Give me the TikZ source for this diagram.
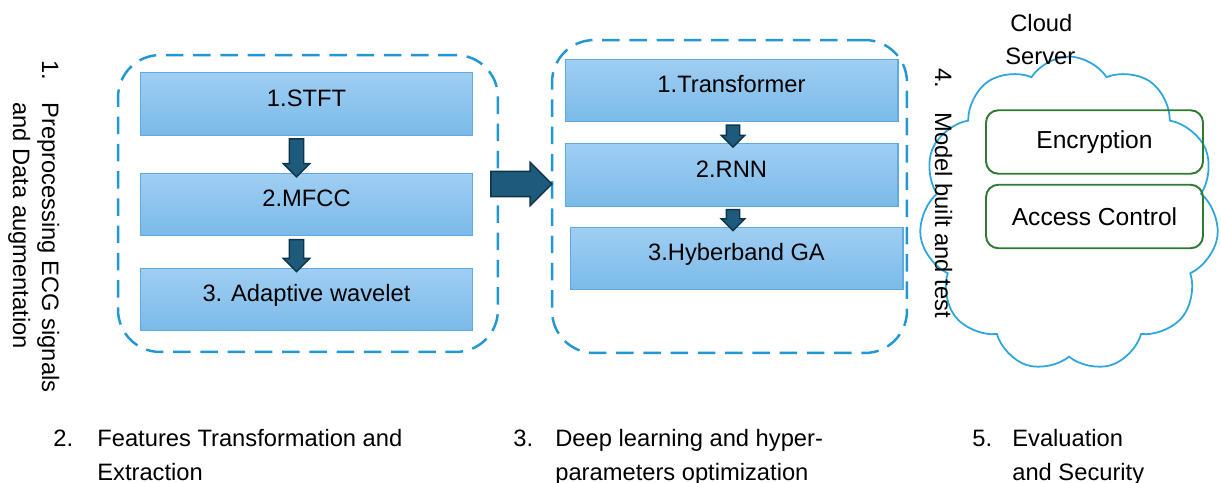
\documentclass[tikz,border=0pt]{standalone}
\usepackage{fontspec}
\setmainfont{Liberation Sans}
\usetikzlibrary{shapes.arrows,shapes.symbols,calc}
\definecolor{dashblue}{RGB}{33,152,212}
\definecolor{boxtop}{RGB}{160,206,243}
\definecolor{boxbot}{RGB}{122,186,232}
\definecolor{boxedge}{RGB}{95,170,225}
\definecolor{arrowfill}{RGB}{29,90,124}
\definecolor{arrowedge}{RGB}{14,52,74}
\definecolor{cloudblue}{RGB}{45,165,222}
\definecolor{keygreen}{RGB}{48,122,52}
\begin{document}
\begin{tikzpicture}[x=0.02cm,y=-0.02cm,
    dashgroup/.style={draw=dashblue,line width=1.4pt,dash pattern=on 10pt off 5.5pt,rounded corners=24pt},
    stage/.style={draw=boxedge,line width=0.6pt,top color=boxtop,bottom color=boxbot,
        minimum width=6.66cm,minimum height=1.25cm,text height=9.8pt,text depth=7pt,
        font=\fontsize{13.5}{15}\selectfont},
    blockarrow/.style={single arrow,draw=arrowedge,fill=arrowfill,line width=0.8pt},
    downarrow/.style={blockarrow,shape border rotate=270,inner sep=0.13cm,single arrow head extend=0.12cm},
    keybox/.style={draw=keygreen,line width=1.1pt,rounded corners=7pt,
        minimum width=4.34cm,minimum height=1.27cm,font=\fontsize{14}{16}\selectfont},
    stepnote/.style={font=\fontsize{13.5}{16}\selectfont,inner sep=0pt,anchor=base west}]
    \useasboundingbox (0,0) rectangle (1221,483);

    % dashed groups
    \node[dashgroup,minimum width=7.6cm,minimum height=5.94cm] (feat) at (308,203.5) {};
    \node[dashgroup,minimum width=7.1cm,minimum height=6.26cm] (deep) at (729.5,196.5) {};

    % feature extraction
    \node[stage] (stft) at (306.5,104) {1.STFT};
    \node[stage] (mfcc) at (306.5,204.5) {2.MFCC};
    \node[stage] (wavelet) at (306.5,299.5) {3. Adaptive wavelet};
    \node[downarrow,minimum height=0.76cm] (a1) at ($(stft.south)!0.5!(mfcc.north)+(-10,0)$) {};
    \node[downarrow,minimum height=0.64cm] (a2) at ($(mfcc.south)!0.5!(wavelet.north)+(-10,0)$) {};

    % deep learning
    \node[stage] (transformer) at (731.5,90.5) {1.Transformer};
    \node[stage] (rnn) at (731.5,175) {2.RNN};
    \node[stage] (hyperband) at (736.5,258.5) {3.Hyberband GA};
    \node[downarrow,minimum height=0.44cm,inner sep=0.12cm,single arrow head extend=0.1cm]
        (a3) at ($(transformer.south)!0.5!(rnn.north)+(1.5,0)$) {};
    \node[downarrow,minimum height=0.42cm,inner sep=0.12cm,single arrow head extend=0.1cm]
        (a4) at ($(rnn.south)!0.5!(hyperband.north)+(-1,0)$) {};

    \node[blockarrow,minimum height=1.22cm,inner sep=0.24cm,single arrow head extend=0.18cm]
        (bigarrow) at (515,184) {};

    % cloud server
    \node[cloud,cloud puffs=11,cloud puff arc=115,cloud ignores aspect,draw=cloudblue,line width=1pt,
        minimum width=6.0cm,minimum height=6.3cm,inner sep=0pt] (cloud) at (1069,214) {};
    \node[keybox] (encrypt) at (1094.5,142) {Encryption};
    \node[keybox] (access) at (1094.5,216.5) {Access Control};
    \node[stepnote] (cloudA) at (1010,32) {Cloud};
    \node[stepnote] (cloudB) at (1005,65) {Server};

    % stage labels
    \node[stepnote,rotate=-90] (n1) at (42,60) {1.};
    \node[stepnote,rotate=-90] (prepA) at (42,102) {Preprocessing ECG signals};
    \node[stepnote,rotate=-90] (prepB) at (13,102) {and Data augmentation};
    \node[stepnote,rotate=-90] (n4) at (935,68) {4.};
    \node[stepnote,rotate=-90] (model) at (935,112) {Model built and test};

    \node[stepnote] (n2) at (53,446) {2.};
    \node[stepnote] (featA) at (97,446) {Features Transformation and};
    \node[stepnote] (featB) at (97,480) {Extraction};
    \node[stepnote] (n3) at (513,446) {3.};
    \node[stepnote] (deepA) at (555,446) {Deep learning and hyper-};
    \node[stepnote] (deepB) at (555,480) {parameters optimization};
    \node[stepnote] (n5) at (972,446) {5.};
    \node[stepnote] (evalA) at (1012,446) {Evaluation};
    \node[stepnote] (evalB) at (1012,480) {and Security};
\end{tikzpicture}
\end{document}
